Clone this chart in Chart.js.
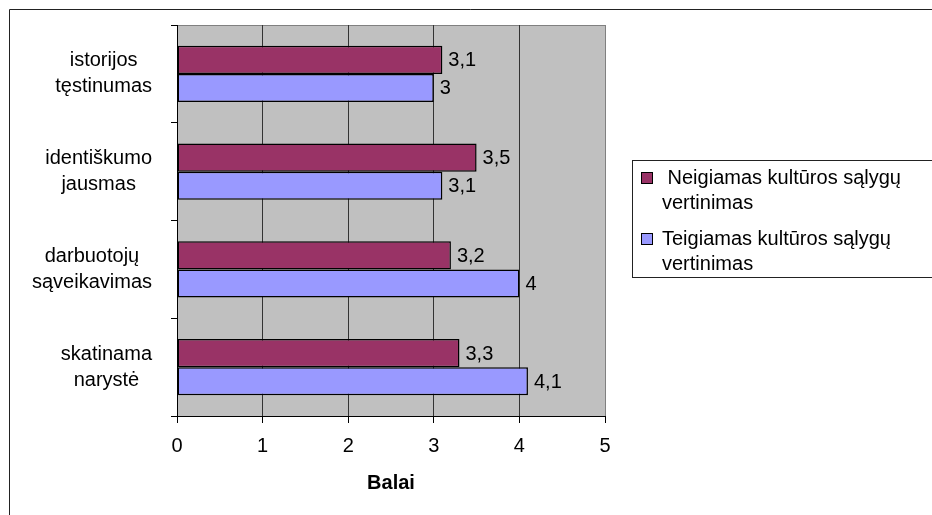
<!DOCTYPE html>
<html>
<head>
<meta charset="utf-8">
<script src="https://cdn.jsdelivr.net/npm/chart.js@4"></script>
<style>
	body { margin: 0; background: #fff; }
	canvas { display: block; }
</style>
</head>
<body>
<canvas id="myChart" width="932" height="515"></canvas>
<script>
// chart data
const categories = [
	['istorijos', 'tęstinumas'],
	['identiškumo', 'jausmas'],
	['darbuotojų', 'sąveikavimas'],
	['skatinama', 'narystė']
];
const neigiamas = [3.1, 3.5, 3.2, 3.3];
const teigiamas = [3, 3.1, 4, 4.1];
const seriesNames = [
	[' Neigiamas kultūros sąlygų', 'vertinimas'],
	['Teigiamas kultūros sąlygų', 'vertinimas']
];
const xMin = 0, xMax = 5, xStep = 1;
const axisTitle = 'Balai';

const FONT = 'Liberation Sans, Arial, sans-serif';
const FS = 20;

// background, frame, category labels, bar values and legend
const decor = {
	id: 'decor',
	beforeDraw(chart) {
		const c = chart.ctx, a = chart.chartArea;
		c.save();
		c.fillStyle = '#c0c0c0';
		c.fillRect(a.left, a.top, a.right - a.left, a.bottom - a.top);
		c.strokeStyle = '#808080';
		c.lineWidth = 1;
		c.beginPath();
		c.moveTo(a.left, a.top + 0.5);
		c.lineTo(a.right, a.top + 0.5);
		c.stroke();
		// outer frame (only left/top are visible in the picture)
		c.strokeStyle = '#222';
		c.beginPath();
		c.moveTo(9.5, chart.height);
		c.lineTo(9.5, 9.5);
		c.lineTo(chart.width, 9.5);
		c.stroke();
		c.restore();
	},
	afterDatasetsDraw(chart) {
		const c = chart.ctx;
		c.save();
		c.font = FS + 'px ' + FONT;
		c.fillStyle = '#000';
		c.textAlign = 'left';
		c.textBaseline = 'middle';
		chart.data.datasets.forEach((ds, i) => {
			chart.getDatasetMeta(i).data.forEach((el, j) => {
				c.fillText(String(ds.data[j]).replace('.', ','), el.x + 6, el.y + 1);
			});
		});
		c.restore();
	},
	afterDraw(chart) {
		const c = chart.ctx;
		c.save();
		c.font = FS + 'px ' + FONT;
		c.fillStyle = '#000';
		c.textBaseline = 'middle';
		c.textAlign = 'center';

		// category labels: block right aligned, lines centred in it
		const ys = chart.scales.y;
		chart.data.labels.forEach((lines, i) => {
			const y = ys.getPixelForTick(i);
			const w = Math.max(...lines.map(t => c.measureText(t).width));
			const cx = 152 - w / 2;
			lines.forEach((t, k) => {
				c.fillText(t, cx, y + (k - (lines.length - 1) / 2) * 26);
			});
		});

		// legend
		c.textAlign = 'left';
		c.strokeStyle = '#222';
		c.lineWidth = 1;
		c.strokeRect(632.5, 160.5, 400, 117);
		const tops = [172, 233];
		chart.data.datasets.forEach((ds, i) => {
			c.fillStyle = ds.backgroundColor;
			c.fillRect(641, tops[i], 12, 12);
			c.strokeStyle = '#000';
			c.strokeRect(641.5, tops[i] + 0.5, 11, 11);
			c.fillStyle = '#000';
			ds.label.forEach((line, k) => {
				c.fillText(line, 662, tops[i] + 6 + k * 25);
			});
		});
		c.restore();
	}
};

const ctx = document.getElementById('myChart').getContext('2d');
const myChart = new Chart(ctx, {
	type: 'bar',
	data: {
		labels: categories,
		datasets: [
			{
				label: seriesNames[0],
				data: neigiamas,
				backgroundColor: '#993366',
				borderColor: '#000',
				borderWidth: 1.5,
				borderSkipped: false
			},
			{
				label: seriesNames[1],
				data: teigiamas,
				backgroundColor: '#9999ff',
				borderColor: '#000',
				borderWidth: 1.5,
				borderSkipped: false
			}
		]
	},
	options: {
		indexAxis: 'y',
		responsive: false,
		animation: false,
		categoryPercentage: 0.573,
		barPercentage: 1.0,
		layout: { padding: { left: 10, top: 25, right: 327, bottom: 0 } },
		plugins: {
			legend: { display: false },
			tooltip: { enabled: false }
		},
		scales: {
			x: {
				min: xMin,
				max: xMax,
				ticks: {
					stepSize: xStep,
					color: '#000',
					padding: 11,
					font: { family: FONT, size: FS }
				},
				grid: {
					color: c => (c.tick && c.tick.value === xMax) ? '#808080' : '#333',
					tickColor: '#000',
					tickLength: 7,
					lineWidth: 1
				},
				border: { color: '#000', width: 1 },
				title: {
					display: true,
					text: axisTitle,
					color: '#000',
					font: { family: FONT, size: FS, weight: 'bold' },
					padding: { top: 0, bottom: 20 }
				},
				afterFit(scale) {
					scale.height = 99;
					scale.paddingLeft = 0;
					scale.paddingRight = 0;
				}
			},
			y: {
				ticks: { display: false },
				grid: {
					drawOnChartArea: false,
					tickLength: 6,
					color: '#000'
				},
				border: { color: '#000', width: 1 },
				afterFit(scale) {
					scale.width = 167;
					scale.paddingTop = 0;
					scale.paddingBottom = 0;
				}
			}
		}
	},
	plugins: [decor]
});
</script>
</body>
</html>
